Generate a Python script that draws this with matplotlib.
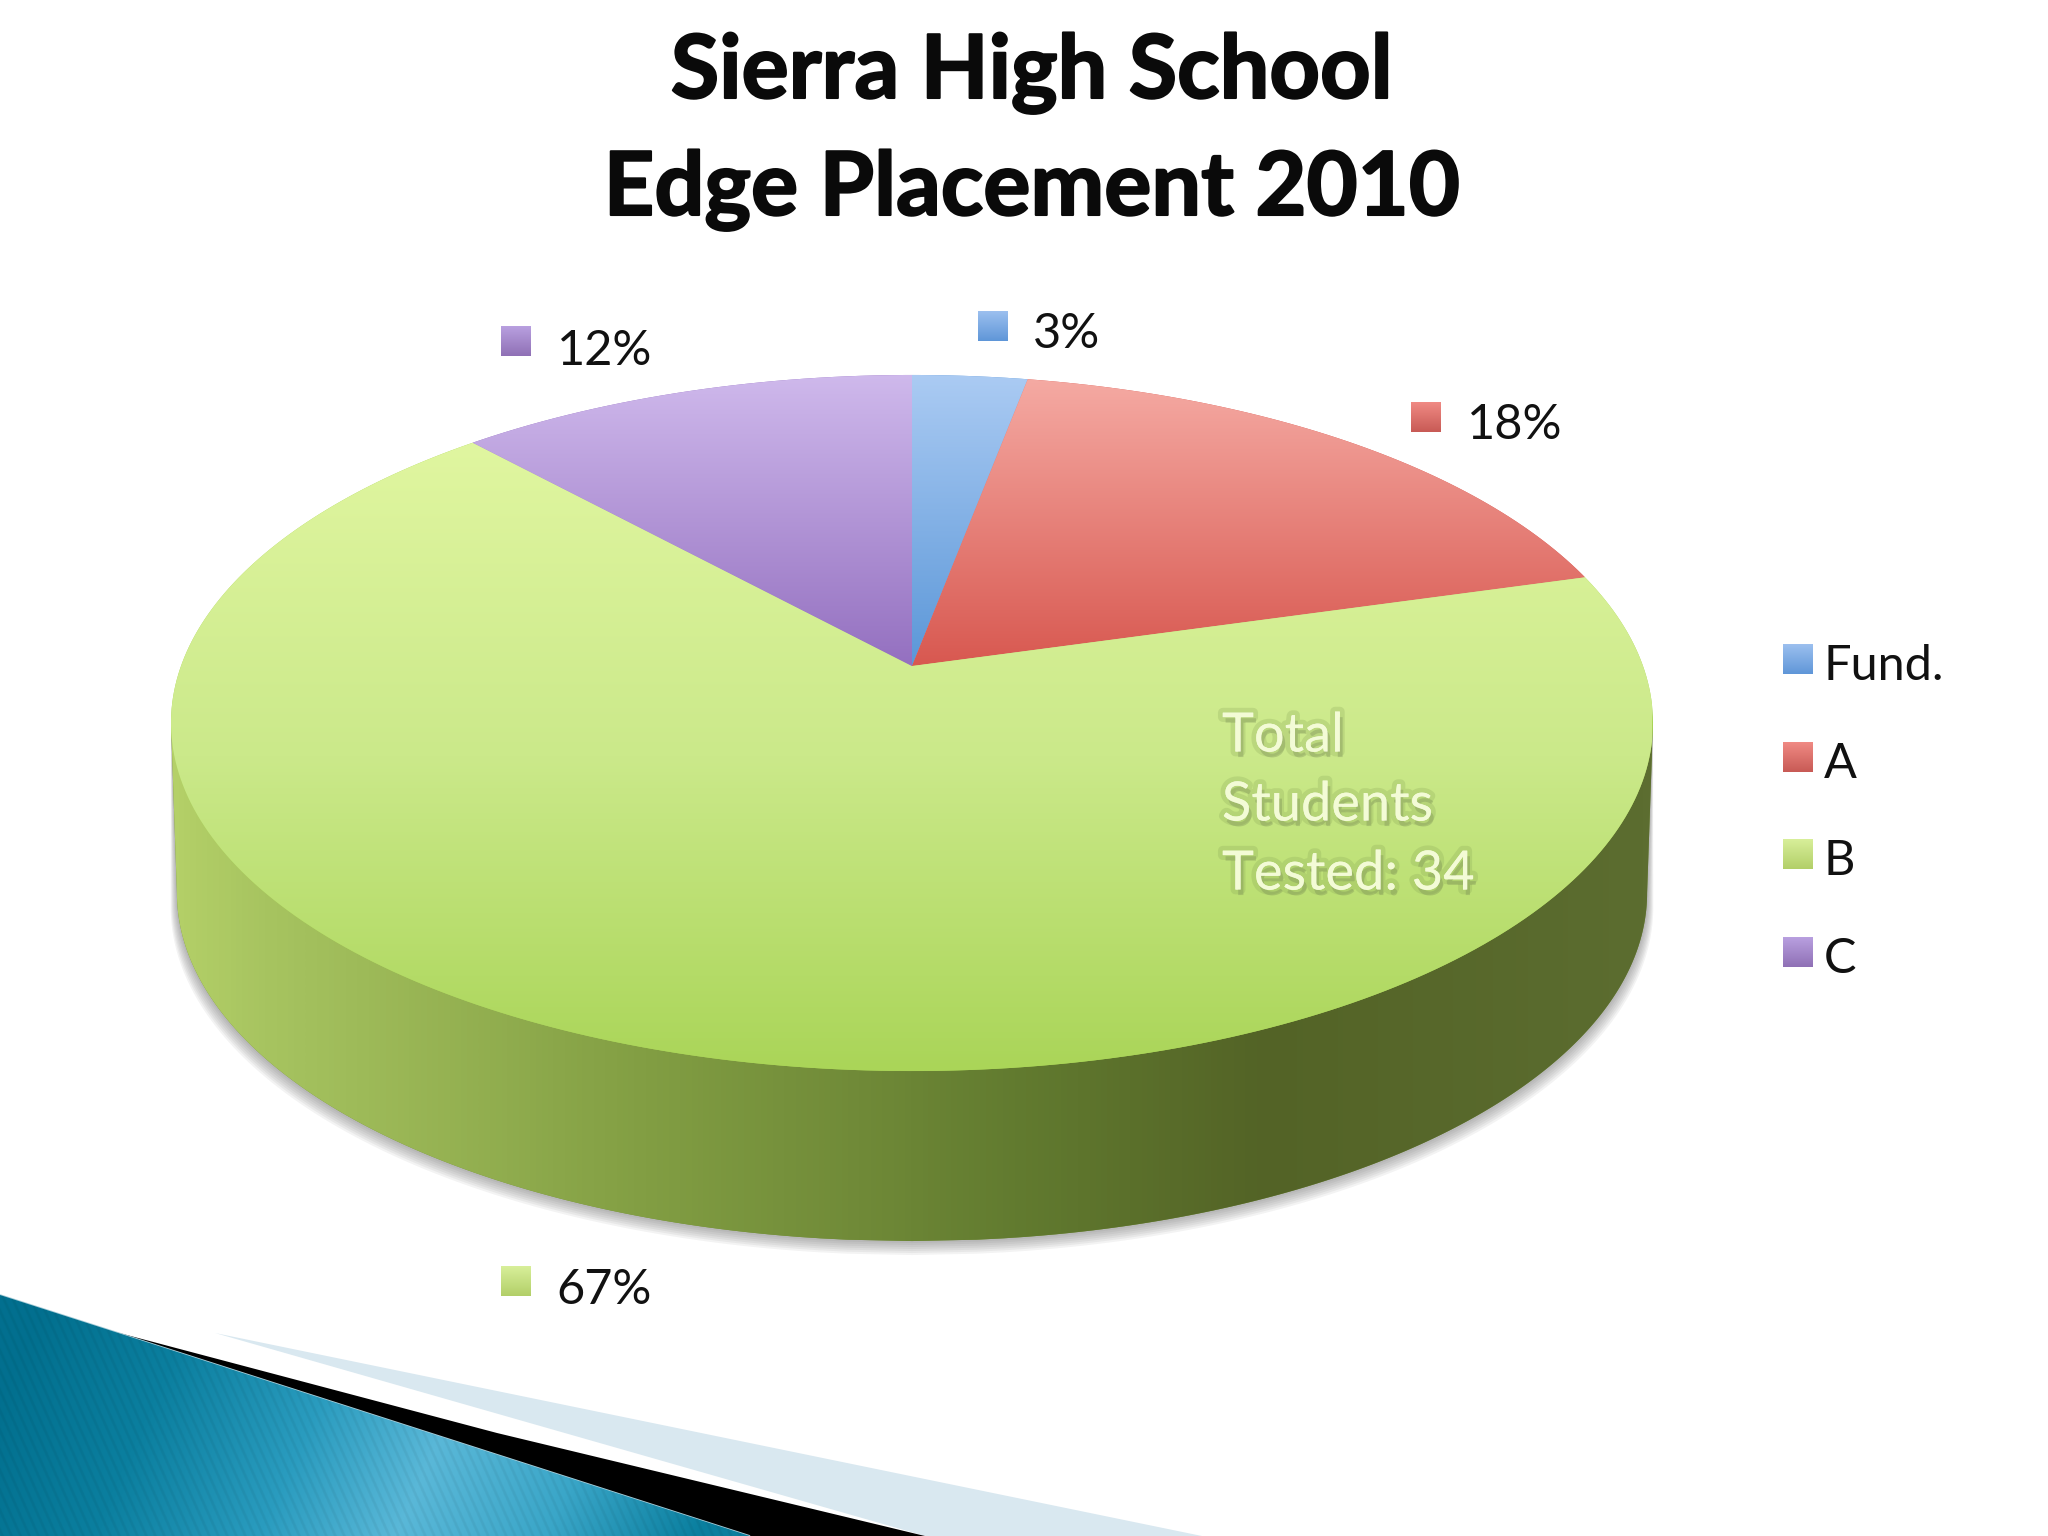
import numpy as np
import matplotlib
matplotlib.use("Agg")
import matplotlib.pyplot as plt
from matplotlib.colors import LinearSegmentedColormap as LSC
from matplotlib.patches import Polygon
from matplotlib.path import Path
from matplotlib.transforms import Transform, Affine2D
import matplotlib.patheffects as pe

# ---- data ----
categories = ["Fund.", "A", "B", "C"]
student_counts = [1, 6, 23, 4]
percent_labels = ["3%", "18%", "67%", "12%"]
title_lines = ["Sierra High School", "Edge Placement 2010"]
note_lines = ["Total", "Students", "Tested: 34"]

# ---- style ----
top_stops = [["#abcbf3", "#5b97d8"], ["#f5aaa3", "#d85850"],
             ["#e0f6a0", "#cbe98a", "#aad558"], ["#cfb9ec", "#9470c0"]]
swatch_stops = [["#9cc0ef", "#5f96d8"], ["#f08a84", "#c85a55"],
                ["#d8ef9a", "#b2cf68"], ["#b9a0e0", "#8f70b5"]]
wall_stops = [(0.0, "#b4d068"), (0.06, "#a7c460"), (0.32, "#829e43"),
              (0.58, "#617a2f"), (0.74, "#536326"), (1.0, "#5c6d30")]
teal_stops = [(0.0, "#02708f"), (0.2, "#0b7f9f"), (0.42, "#2a9cbf"),
              (0.6, "#5ab8d8"), (0.8, "#3aa6c8"), (1.0, "#0a7f9f")]
FONT = "Lato"

fig = plt.figure(figsize=(20.48, 15.36), dpi=100, facecolor="white")
ax = fig.add_axes([0, 0, 1, 1])


class TiltedDisc(Transform):
    """Perspective view of the unit-circle pie: its centre lands on the apex."""
    input_dims = output_dims = 2
    has_inverse = False

    def __init__(self, cx, cy, a, b, k):
        super().__init__()
        self.p = (cx, cy, a, b, k)

    def transform_non_affine(self, values):
        cx, cy, a, b, k = self.p
        values = np.asarray(values, float)
        u, v = values[:, 0], -values[:, 1]
        w = 1 - k * v
        return np.column_stack([cx + a * u / w, cy + b * v / w])

    def transform_path_non_affine(self, path):
        polys = path.transformed(Affine2D().scale(2000)).to_polygons()
        return Path(self.transform_non_affine(np.concatenate(polys) / 2000))


k = 0.1638
disc = TiltedDisc(912, 666, 731, 338.7, k)
wedge_trans = disc + ax.transData

wedges, _ = ax.pie(student_counts, startangle=90, counterclock=False, radius=1.0,
                   colors=[s[-1] for s in top_stops],
                   wedgeprops=dict(transform=wedge_trans, linewidth=0, zorder=3))
ax.set_aspect("auto")
ax.set_xlim(0, 2048)
ax.set_ylim(1536, 0)
ax.set_autoscale_on(False)
ax.axis("off")


def gradient(extent, stops, horizontal=False, zorder=3, clip=None):
    cmap = LSC.from_list("g", stops)
    g = np.linspace(0, 1, 256)
    g = g[None, :] if horizontal else g[:, None]
    im = ax.imshow(g, cmap=cmap, extent=extent, aspect="auto", zorder=zorder,
                   interpolation="bilinear", vmin=0, vmax=1)
    if clip is not None:
        im.set_clip_path(clip)
    return im


# wall of the disc: lower rim plus its soft shadow
t = np.linspace(0, 1, 300)
v = k + (1 - k) * t
u = np.sqrt(np.clip(1 - v ** 2, 0, 1))
circle = np.column_stack([np.r_[-u, u[::-1]], -np.r_[v, v[::-1]]])
rim_top = disc.transform_non_affine(circle)


def rim(dy, sx=1.0):
    pts = rim_top.copy()
    pts[:, 0] = 912 + (pts[:, 0] - 912) * sx
    pts[:, 1] += dy
    return pts


left_top, right_top = rim_top[0], rim_top[-1]
for i, d in enumerate(np.linspace(14, 2, 7)):
    pts = rim(170 + d, 0.992 + d * 0.0006)
    ax.add_patch(Polygon(np.vstack([left_top, pts, right_top]), closed=True,
                         fc="#555555", ec="none", alpha=0.07, zorder=1))
wall = Polygon(np.vstack([left_top, rim(170, 0.992), right_top]), closed=True,
               fc="#758f3b", ec="none", zorder=2)
ax.add_patch(wall)
gradient([170, 1652, 1250, 700], LSC.from_list("w", wall_stops)(np.linspace(0, 1, 64)),
         horizontal=True, zorder=2, clip=wall)

# gradient fill of each slice, clipped by the wedge itself
for w, stops in zip(wedges, top_stops):
    verts = wedge_trans.transform_path(w.get_path()).vertices
    yy = ax.transData.inverted().transform(verts)
    y0, y1 = yy[:, 1].min(), yy[:, 1].max()
    gradient([170, 1652, y1, y0], stops, zorder=3.1, clip=w)


# swatches and labels
def swatch(x, y, size, stops):
    gradient([x, x + size, y + size, y], stops, zorder=4)


label_pos = [(978, 311, 1033, 334), (1411, 402, 1467, 425),
             (501, 1266, 556, 1290), (501, 326, 557, 351)]
for (sx, sy, tx, ty), lab, st in zip(label_pos, percent_labels, swatch_stops):
    swatch(sx, sy, 30, st)
    ax.text(tx, ty, lab, family=FONT, fontsize=35, color="#111111",
            ha="left", va="center", zorder=5)

for i, (cat, st) in enumerate(zip(categories, swatch_stops)):
    swatch(1783, 644 + 97.7 * i, 30, st)
    ax.text(1824, 666 + 97.7 * i, cat, family=FONT, fontsize=35, color="#111111",
            ha="left", va="center", zorder=5)

for line, base in zip(title_lines, [98, 215]):
    ax.text(1032, base, line, family=FONT, fontsize=63.5, fontweight="bold",
            color="#0a0a0a", ha="center", va="baseline", zorder=5,
            path_effects=[pe.withStroke(linewidth=1.5, foreground="#0a0a0a")])

shadow = [pe.withStroke(linewidth=7, foreground="#7f9a50", alpha=0.22),
          pe.withSimplePatchShadow(offset=(2, -4), shadow_rgbFace="#6f8050", alpha=0.3)]
for line, y in zip(note_lines, [736, 805, 874]):
    ax.text(1222, y, line, family=FONT, fontsize=39, color="#f3fbd6",
            ha="left", va="center", zorder=5, path_effects=shadow)

# slide decoration, bottom left
light = Polygon([(215, 1333), (1202, 1536), (925, 1536)], closed=True,
                fc="#d9e8f0", ec="none", zorder=1)
ax.add_patch(light)
black = Polygon([(108, 1330), (497, 1433), (925, 1536), (750, 1536)], closed=True,
                fc="#000000", ec="none", zorder=1.2)
ax.add_patch(black)
teal = Polygon([(0, 1295), (750, 1536), (0, 1536)], closed=True,
               fc="#1c8fb0", ec="#a9cdd8", lw=1.2, zorder=1.4)
ax.add_patch(teal)
# the sheen runs diagonally and carries faint fine stripes
xs, ys = np.meshgrid(np.linspace(0, 760, 1520), np.linspace(1290, 1536, 492))
s = np.clip((xs + (ys - 1536) * 0.45 + 60) / 760, 0, 1)
rgba = LSC.from_list("t", teal_stops)(s)
stripes = 1 - 0.05 * (np.sin(2 * np.pi * (xs - (ys - 1536) * 0.45) / 9) > 0.5)
rgba[..., :3] *= stripes[..., None]
im = ax.imshow(rgba, extent=[0, 760, 1536, 1290], aspect="auto", zorder=1.5,
               interpolation="bilinear")
im.set_clip_path(teal)

fig.savefig("out.png", dpi=100, facecolor="white")
